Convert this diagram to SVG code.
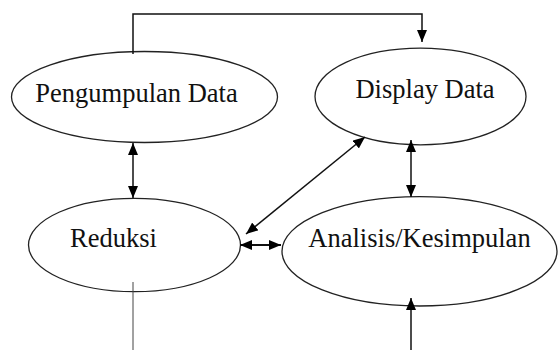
<svg xmlns="http://www.w3.org/2000/svg" width="558" height="350" viewBox="0 0 558 350">
<defs>
<style>
.node ellipse{fill:#fff;stroke:#222;stroke-width:1.3}
.node text{font-family:"Liberation Serif","Times New Roman",serif;font-size:26.5px;fill:#111;text-anchor:middle}
.conn line,.conn polyline{stroke:#111;stroke-width:1.5;fill:none}
.conn .thin{stroke:#444;stroke-width:1}
.conn .thick{stroke-width:2.2}
</style>
<marker id="ah" viewBox="0 0 12 10" refX="12" refY="5" markerWidth="12" markerHeight="10" markerUnits="userSpaceOnUse" orient="auto-start-reverse">
<path d="M0,0 L12,5 L0,10 Z" fill="#000"/>
</marker>
</defs>
<rect width="558" height="350" fill="#fff"/>
<g id="pengumpulan" class="node">
<ellipse cx="144.5" cy="97" rx="133" ry="45.5"/>
<text x="136.5" y="102">Pengumpulan Data</text>
</g>
<g id="display" class="node">
<ellipse cx="420.5" cy="96.5" rx="105.5" ry="48.3"/>
<text x="425" y="98">Display Data</text>
</g>
<g id="reduksi" class="node">
<ellipse cx="134.5" cy="245" rx="106" ry="46.7"/>
<text x="113.5" y="247">Reduksi</text>
</g>
<g id="analisis" class="node">
<ellipse cx="419.5" cy="251.3" rx="137.5" ry="54.7"/>
<text x="419.5" y="247">Analisis/Kesimpulan</text>
</g>
<g id="connectors" class="conn">
<polyline points="133,54 133,14 422,14 422,42" marker-end="url(#ah)"/>
<line x1="133" y1="143" x2="133" y2="198" marker-start="url(#ah)" marker-end="url(#ah)"/>
<line x1="411" y1="140" x2="411" y2="197" marker-start="url(#ah)" marker-end="url(#ah)"/>
<line x1="365" y1="137" x2="246" y2="234" marker-start="url(#ah)" marker-end="url(#ah)"/>
<line class="thick" x1="240" y1="245" x2="281" y2="245" marker-start="url(#ah)" marker-end="url(#ah)"/>
<line class="thin" x1="133" y1="282" x2="133" y2="350"/>
<line x1="411" y1="350" x2="411" y2="298" marker-end="url(#ah)"/>
</g>
</svg>
